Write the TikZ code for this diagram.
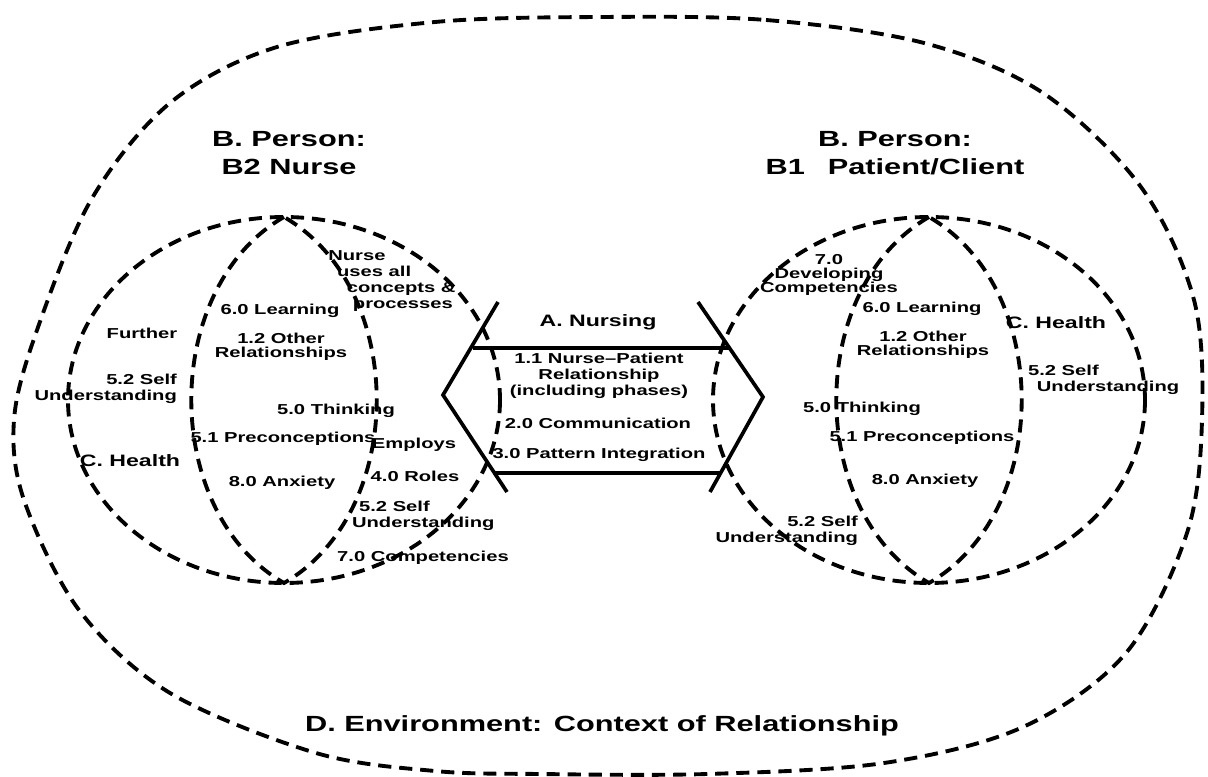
\documentclass[tikz,border=0pt]{standalone}
\usepackage{fontspec}
\setmainfont{Liberation Sans}[FakeStretch=1.4]
\usetikzlibrary{positioning}

\begin{document}
\begin{tikzpicture}[x=0.02cm,y=-0.02cm,
	dashline/.style={line width=2.2pt,dash pattern=on 7.5pt off 4.5pt},
	hexline/.style={line width=2.1pt},
	big/.style={font=\bfseries\fontsize{12.5}{15.8}\selectfont,align=center},
	mid/.style={font=\bfseries\fontsize{9.4}{11}\selectfont,align=center},
	lbl/.style={font=\bfseries\fontsize{8.2}{9.2}\selectfont,align=center,inner sep=1pt}]
	\useasboundingbox (0,0) rectangle (1208,777);

	\draw[dashline] plot[smooth cycle,tension=0.55] coordinates {
		(600,17) (766,20) (924,43) (1043,93) (1141,187) (1194,300) (1202,420)
		(1187,533) (1126,653) (1023,727) (884,763) (707,774) (540,774) (435,771)
		(316,753) (170,693) (79,610) (24,500) (14,420) (36,333) (91,200)
		(170,103) (277,47) (435,22)};

	\foreach \cx/\nm in {284/n,929/c}{
		\draw[dashline] (\cx,400) ellipse [x radius=216,y radius=183];
		\coordinate (\nm-top) at (\cx,217);
		\coordinate (\nm-bot) at (\cx,583);
		\draw[dashline] (\nm-top) to[bend right=60] (\nm-bot) to[bend right=60] (\nm-top);
	}

	\coordinate (hl) at (443,395);
	\coordinate (hr) at (763,397);
	\draw[hexline] (498,302) -- (hl) -- (507,492);
	\draw[hexline] (698,302) -- (hr) -- (710,492);
	\draw[hexline] (473,348) -- (729,348);
	\draw[hexline] (494,473) -- (720,473);

	\node[big] (bnurse) at (289,153) {B. Person:\\B2 Nurse};
	\node[big] (bclient) at (895,153) {B. Person:\\B1\hspace{13pt}Patient/Client};
	\node[big] (env) at (602,726) {D. Environment: Context of Relationship};

	\node[lbl,align=left,anchor=north west,inner sep=0pt] (nuses) at (328,250)
		{Nurse\\\hspace*{5pt}uses all\\\hspace*{10.5pt}concepts \&\\\hspace*{14pt}processes};
	\node[lbl] (nlearn) at (280,311) {6.0 Learning};
	\node[lbl] (nfurther) at (142,333) {Further};
	\node[lbl] (nother) at (281,347) {1.2 Other\\[-1pt]Relationships};
	\node[lbl,align=right,anchor=east] (nself) at (179,389) {5.2 Self\\Understanding};
	\node[lbl] (nthink) at (336,411) {5.0 Thinking};
	\node[lbl] (npre) at (283,439) {5.1 Preconceptions};
	\node[lbl] (employs) at (414,445) {Employs};
	\node[mid] (nhealth) at (130,461) {C. Health};
	\node[lbl] (nanx) at (282,483) {8.0 Anxiety};
	\node[lbl] (roles) at (415,476) {4.0 Roles};
	\node[lbl,align=left,anchor=west] (nself2) at (350,516) {\hspace*{4pt}5.2 Self\\Understanding};
	\node[lbl] (ncomp) at (423,558) {7.0 Competencies};

	\node[mid] (nursing) at (598,322) {A. Nursing};
	\node[lbl] (relship) at (599,376) {1.1 Nurse--Patient\\Relationship\\(including phases)};
	\node[lbl] (comm) at (598,423) {2.0 Communication};
	\node[lbl] (pattern) at (599,455) {3.0 Pattern Integration};

	\node[lbl] (cdev) at (829,275) {7.0\\[-1pt]Developing\\[-1pt]Competencies};
	\node[lbl] (clearn) at (922,309) {6.0 Learning};
	\node[mid] (chealth) at (1056,323) {C. Health};
	\node[lbl] (cother) at (923,345) {1.2 Other\\[-1pt]Relationships};
	\node[lbl,align=left,anchor=west] (cself) at (1026,380) {5.2 Self\\\hspace*{5pt}Understanding};
	\node[lbl] (cthink) at (862,409) {5.0 Thinking};
	\node[lbl] (cpre) at (922,438) {5.1 Preconceptions};
	\node[lbl] (canx) at (925,481) {8.0 Anxiety};
	\node[lbl,align=right,anchor=east] (cself2) at (860,531) {5.2 Self\\Understanding};
\end{tikzpicture}
\end{document}
